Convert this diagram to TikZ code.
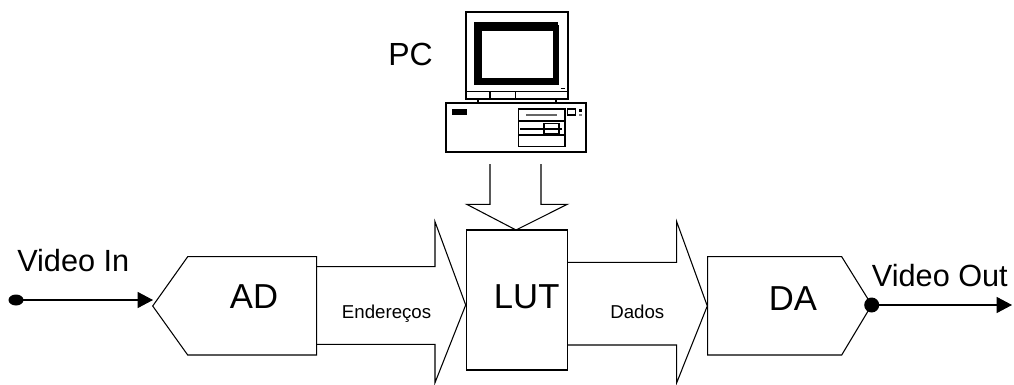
\documentclass[tikz,border=0pt]{standalone}
\usepackage{fontspec}
\setmainfont{Liberation Sans}
\usetikzlibrary{arrows.meta}
\begin{document}
\begin{tikzpicture}[x=0.75pt,y=-0.75pt,line join=miter,
  thin line/.style={draw=black,line width=0.8pt},
  block/.style={thin line,fill=white},
  heavy/.style={draw=black,line width=1.6pt},
  biglabel/.style={inner sep=0pt,font=\fontsize{26pt}{26pt}\selectfont},
  portlabel/.style={inner sep=0pt,font=\fontsize{23pt}{23pt}\selectfont},
  buslabel/.style={inner sep=0pt,font=\fontsize{14pt}{14pt}\selectfont},
  signal/.style={thin line,-{Triangle[length=11.5pt,width=12pt]}}]
\useasboundingbox (0,0) rectangle (1014,385);

% key points of the signal chain
\coordinate (inpt)   at (16,300);
\coordinate (adin)   at (153,300);
\coordinate (adtip)  at (152.7,306);
\coordinate (datip)  at (871.7,305);
\coordinate (outend) at (1012,305);

% AD converter
\draw[block] (adtip) -- (187.7,256.7) -- (316.7,256.7) -- (316.7,355) -- (187.7,355) -- cycle;
\node[biglabel,anchor=base] (ad) at (254,308) {AD};

% address bus
\draw[thin line] (316.7,266.7) -- (435,266.7) -- (435,221.7) -- (465.7,305)
  -- (435,382.7) -- (435,344.3) -- (316.7,344.3);
\node[buslabel,anchor=base west] (endr) at (341.7,318.3) {Endereços};

% look-up table
\draw[block] (466.7,230) rectangle (567.3,370);
\node[biglabel,anchor=base] (lut) at (526.7,308) {LUT};

% data bus
\draw[thin line] (567.3,262.3) -- (676.7,262.3) -- (676.7,221.7) -- (707.3,306)
  -- (676.7,382.7) -- (676.7,345) -- (567.3,345);
\node[buslabel,anchor=base west] (dados) at (610,318.3) {Dados};

% DA converter
\draw[block] (707.7,256.7) -- (841.7,256.7) -- (datip) -- (841.7,355) -- (707.7,355) -- cycle;
\node[biglabel,anchor=base] (da) at (793,310.7) {DA};

% programming bus from the PC
\draw[thin line] (490,164) -- (490,204.3) -- (466.7,204.3) -- (516,230)
  -- (567.3,204.3) -- (541,204.3) -- (541,164);

% video input and output
\fill (inpt) ellipse [x radius=7.5,y radius=5.5];
\draw[signal] (inpt) -- (adin);
\node[portlabel,anchor=base west] (vin) at (17,271.7) {Video In};
\fill (datip) circle [radius=7.5];
\draw[signal] (datip) -- (outend);
\node[portlabel,anchor=base west] (vout) at (871.7,286) {Video Out};

% PC: monitor
\node[portlabel,font=\fontsize{24pt}{24pt}\selectfont,anchor=base west] (pc) at (388,65) {PC};
\draw[heavy,fill=white] (466,12.3) rectangle (568.3,99);
\fill (474.3,21.7) rectangle (559.3,85);
\fill[white] (481.7,31) rectangle (552.7,77.7);
\fill[white] (558.3,21.7) rectangle (559.3,25);
\draw[thin line] (466,91.7) -- (568.3,91.7);
\draw[thin line] (490,91.7) -- (490,99) (515.7,91.7) -- (515.7,99);
\draw[thin line] (560.7,88.3) -- (565,88.3);
% PC: stand
\draw[heavy] (478.3,99) -- (478.3,103.3) (556,99) -- (556,103.3);
% PC: system unit
\draw[heavy,fill=white] (445.7,103.3) rectangle (585.7,151.7);
\fill (452.3,109) rectangle (467.3,115);
\draw[thin line] (518.3,109) rectangle (565,146.7);
\draw[thin line] (518.3,121) -- (565,121) (518.3,135) -- (565,135);
\draw[draw=black!60,line width=1.2pt] (526,115) -- (556.7,115);
\draw[thin line] (520,129) -- (561.7,129);
\draw[thin line] (544,123.7) rectangle (559,133.3);
\draw[thin line] (567.7,109) rectangle (575.3,115);
\fill (578.7,109) rectangle (581.7,112.3);
\fill[black!50] (578.7,114) rectangle (581.7,116);
\end{tikzpicture}
\end{document}
